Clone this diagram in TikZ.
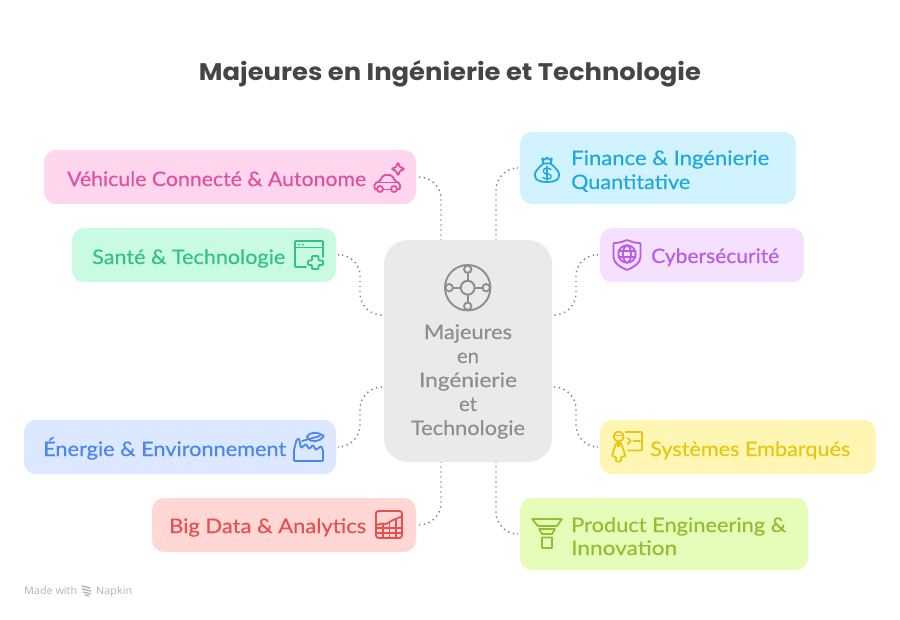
\documentclass[tikz,border=0pt]{standalone}
\usepackage{fontspec}
\usepackage{graphicx}
\setmainfont{Lato}
\newfontfamily\titlefont{Poppins}
\newfontfamily\footfont{Open Sans}
\newcommand{\fitw}[2]{\resizebox{#1pt}{\height}{#2}}
\definecolor{pinkF}{HTML}{FFD6EE}\definecolor{pinkT}{HTML}{E0509F}
\definecolor{mintF}{HTML}{C8FBE2}\definecolor{mintT}{HTML}{33C27F}
\definecolor{cyanF}{HTML}{D0F3FF}\definecolor{cyanT}{HTML}{1EA8DC}
\definecolor{purpF}{HTML}{F5E0FF}\definecolor{purpT}{HTML}{B85CE6}
\definecolor{blueF}{HTML}{DCE8FF}\definecolor{blueT}{HTML}{4C86E8}
\definecolor{redF}{HTML}{FFD8D6}\definecolor{redT}{HTML}{E8504F}
\definecolor{yelF}{HTML}{FFF6B3}\definecolor{yelT}{HTML}{E6C713}
\definecolor{limeF}{HTML}{E5FDB8}\definecolor{limeT}{HTML}{8FBF33}
\definecolor{grayF}{HTML}{EAEAEA}\definecolor{grayT}{HTML}{8E8E8E}
\tikzset{
 x=1pt,y=-1pt,
 card/.style={rectangle,rounded corners=12pt,inner sep=0pt,draw=none},
 lab/.style={anchor=base west,inner sep=0pt,font=\fontsize{20}{24}\selectfont\addfontfeature{FakeBold=0.35}},
 clab/.style={anchor=base,inner sep=0pt,text=grayT,font=\fontsize{20}{24}\selectfont\addfontfeature{FakeBold=0.35}},
 conn/.style={draw=black!50,line width=1.4pt,dash pattern=on 1.4pt off 3.6pt,rounded corners=22pt,shorten <=3pt},
 ico/.style={line width=1.8pt,line join=round,line cap=round,rounded corners=0.8pt},
}
\begin{document}
\begin{tikzpicture}
\useasboundingbox (0,0) rectangle (900,619);
\node[anchor=base,inner sep=0pt,text=black!73] (title) at (450,80) {\titlefont\bfseries\fontsize{24}{28}\selectfont\fitw{502}{Majeures en Ingénierie et Technologie}};
% cards
\node[card,fill=pinkF,minimum width=372pt,minimum height=54pt] (veh) at (230,177) {};
\node[card,fill=mintF,minimum width=264pt,minimum height=54pt] (san) at (204,255) {};
\node[card,fill=blueF,minimum width=312pt,minimum height=54pt] (ene) at (180,447) {};
\node[card,fill=redF,minimum width=264pt,minimum height=54pt] (big) at (284,525) {};
\node[card,fill=cyanF,minimum width=276pt,minimum height=72pt] (fin) at (658,168) {};
\node[card,fill=purpF,minimum width=204pt,minimum height=54pt] (cyb) at (702,255) {};
\node[card,fill=yelF,minimum width=276pt,minimum height=54pt] (sys) at (738,447) {};
\node[card,fill=limeF,minimum width=288pt,minimum height=72pt] (pro) at (664,534) {};
\node[card,rounded corners=24pt,fill=grayF,minimum width=168pt,minimum height=222pt] (cen) at (468,351) {};
% connector ends on the central card
\coordinate (cnw) at (441,240); \coordinate (cne) at (496,240);
\coordinate (csw) at (441,462); \coordinate (cse) at (496,462);
\coordinate (cl1) at (384,315); \coordinate (cl2) at (384,387);
\coordinate (cr1) at (552,315); \coordinate (cr2) at (552,387);
\draw[conn] (veh.east) -- (441,177) -- (cnw);
\draw[conn] (fin.west) -- (496,168) -- (cne);
\draw[conn] (san.east) -- (360,254) -- (360,315) -- (cl1);
\draw[conn] (cyb.west) -- (576,254) -- (576,315) -- (cr1);
\draw[conn] (ene.east) -- (360,447) -- (360,387) -- (cl2);
\draw[conn] (sys.west) -- (576,447) -- (576,387) -- (cr2);
\draw[conn] (big.east) -- (441,525) -- (csw);
\draw[conn] (pro.west) -- (496,534) -- (cse);
% labels
\node[lab,text=pinkT] (tveh) at (67,186) {\fitw{299}{Véhicule Connecté \& Autonome}};
\node[lab,text=mintT] (tsan) at (92,264) {\fitw{193}{Santé \& Technologie}};
\node[lab,text=cyanT] (tfin1) at (571,165) {\fitw{198}{Finance \& Ingénierie}};
\node[lab,text=cyanT] (tfin2) at (571,189) {\fitw{119}{Quantitative}};
\node[lab,text=purpT] (tcyb) at (651,263) {\fitw{128}{Cybersécurité}};
\node[lab,text=blueT] (tene) at (43,456) {\fitw{243}{Énergie \& Environnement}};
\node[lab,text=redT] (tbig) at (169,533) {\fitw{197}{Big Data \& Analytics}};
\node[lab,text=yelT] (tsys) at (650,456) {\fitw{200}{Systèmes Embarqués}};
\node[lab,text=limeT] (tpro1) at (571,532) {\fitw{215}{Product Engineering \&}};
\node[lab,text=limeT] (tpro2) at (571,555) {\fitw{106}{Innovation}};
\node[clab] (c1) at (468,339) {\fitw{88}{Majeures}};
\node[clab] (c2) at (468,363) {\fitw{22}{en}};
\node[clab] (c3) at (468,387) {\fitw{98}{Ingénierie}};
\node[clab] (c4) at (468,411) {\fitw{18}{et}};
\node[clab] (c5) at (468,435) {\fitw{114}{Technologie}};
% footer
\node[anchor=base west,inner sep=0pt,text=black!30] (made) at (24,594) {\footfont\fontsize{10.5}{12}\selectfont\fitw{53}{Made with}};
\node[anchor=base west,inner sep=0pt,text=black!30] (nap) at (96,594) {\footfont\fontsize{10.5}{12}\selectfont\fitw{36}{Napkin}};
\draw[black!30,line width=1.4pt] (82,586)--(90,588) (82,589)--(91,591) (83,592)--(91,594) (85,595)--(89,596);
% central icon
\begin{scope}[draw=grayT,line width=1.9pt]
\draw (467.7,287.7) circle[radius=22.7pt];
\draw (467.7,287.7) circle[radius=6.9pt];
\foreach \dx/\dy in {0/-18.5,18.5/0,0/18.5,-18.5/0}{
 \draw[fill=grayF] (467.7+\dx,287.7+\dy) circle[radius=3.7pt];
}
\draw (467.7,272.9)--(467.7,281) (467.7,294.4)--(467.7,302.5) (452.9,287.7)--(461,287.7) (474.4,287.7)--(482.5,287.7);
\end{scope}
% car + sparkle
\begin{scope}[ico,draw=pinkT]
\draw (398,162.5)--(400,167)--(404.5,169)--(400,171)--(398,175.5)--(396,171)--(391.5,169)--(396,167)--cycle;
\draw[rounded corners=2pt] (376,189.5)--(374.5,189.5)--(374.5,183)--(380,181.5)--(383,175)--(392,175)--(395,181.5)--(400,183)--(400,189.5)--(398,189.5);
\draw (376,182.5)--(399,182.5);
\draw (384,189.5)--(390,189.5);
\draw (380,189) circle[radius=3pt] (394,189) circle[radius=3pt];
\end{scope}
% window + plus
\begin{scope}[ico,draw=mintT]
\draw (306,267)--(295,267)--(295,241)--(323,241)--(323,257);
\draw (295,247.5)--(323,247.5);
\fill[mintT] (299,244.5) circle[radius=1pt] (303,244.5) circle[radius=1pt];
\draw (312,256)--(318.5,256)--(318.5,260.5)--(323,260.5)--(323,265)--(318.5,265)--(318.5,269)--(312,269)--(312,265)--(308,265)--(308,260.5)--(312,260.5)--cycle;
\end{scope}
% money bag
\begin{scope}[ico,draw=cyanT]
\draw (542,158)--(545,160)--(547,157)--(549,160)--(552,158)--(550.5,163.5)--(543.5,163.5)--cycle;
\draw (543.5,163.5) .. controls (537,169) and (535,172) .. (535,175) .. controls (535,180) and (540,182) .. (547,182) .. controls (554,182) and (559,180) .. (559,175) .. controls (559,172) and (557,169) .. (550.5,163.5);
\draw[line width=1.4pt] (551,169.5) .. controls (549,167.5) and (543.5,168) .. (543.5,171) .. controls (543.5,175) and (551,173) .. (551,176.5) .. controls (551,179.5) and (545,179.5) .. (543,177.5);
\draw[line width=1.4pt] (547,166.5)--(547,180);
\end{scope}
% shield + globe
\begin{scope}[ico,draw=purpT]
\draw (613.5,243) .. controls (620,243) and (623,241.5) .. (627,240) .. controls (631,241.5) and (634,243) .. (640.5,243) -- (640.5,256) .. controls (640.5,263) and (634,267) .. (627,270) .. controls (620,267) and (613.5,263) .. (613.5,256) -- cycle;
\draw (627,254) circle[radius=8.7pt];
\draw (627,254) ellipse[x radius=4pt,y radius=8.7pt];
\draw (618.5,251)--(635.5,251) (618.5,257)--(635.5,257);
\end{scope}
% factory + leaf
\begin{scope}[ico,draw=blueT]
\draw (294,450)--(294,461)--(323,461)--(323,450)--(321,446)--(316,450)--(313,445)--(309,449)--(306,444)--(301,448)--(299,438.5)--(296.5,440)--(294,450);
\draw (307,437) .. controls (309,432) and (318,431.5) .. (324,436) .. controls (320,442) and (310,443) .. (307,437) -- cycle;
\draw (302,441)--(320,436);
\end{scope}
% chart
\begin{scope}[ico,draw=redT]
\draw[rounded corners=2.5pt] (376,511)rectangle(402,538);
\draw (376.5,525)--(382,523.5)--(386,524)--(393,520)--(401.5,516.5);
\draw (376,528)--(402,528) (376,533)--(402,533) (383,524)--(383,538) (389.5,522)--(389.5,538) (396,519)--(396,538);
\end{scope}
% presenter
\begin{scope}[ico,draw=yelT]
\draw (618.7,436.5) circle[radius=5pt];
\draw (614.5,435.5)--(623,435.5);
\draw (625.5,432)--(642,432)--(642,450.5)--(628,450.5);
\draw (627.5,438)--(631,441)--(627.5,444);
\draw (633.5,441)--(640,441);
\draw (616,443)--(621,443)--(625.5,456)--(621,457)--(621,461.5)--(616,461.5)--(616,457)--(612,456)--cycle;
\draw (617,444)--(618.5,447)--(620,444);
\end{scope}
% funnel
\begin{scope}[ico,draw=limeT,rounded corners=0.3pt]
\draw (532,519)--(562,519)--(557,526)--(538,526)--cycle;
\draw (539,529)--(555,529)--(552,534)--(542,534)--cycle;
\draw (542,537.5) rectangle (552,548);
\end{scope}
\end{tikzpicture}
\end{document}
